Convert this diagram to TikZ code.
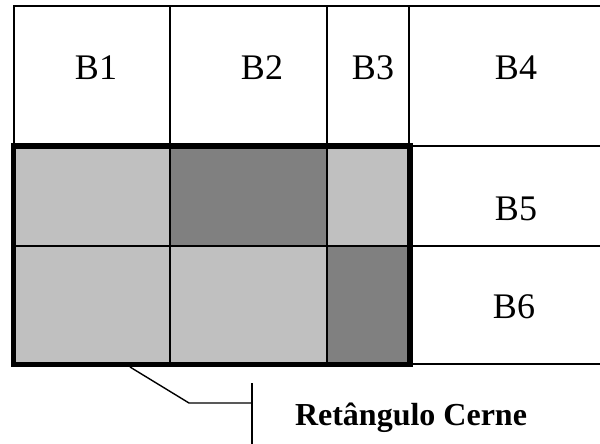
\documentclass[tikz,border=0pt]{standalone}
\usepackage{fontspec}
\setmainfont{Liberation Serif}
\usepackage{tikz}
\usetikzlibrary{positioning,calc}
\definecolor{lightcell}{HTML}{C0C0C0}
\definecolor{darkcell}{HTML}{808080}

\begin{document}
\begin{tikzpicture}[x=1pt,y=-1pt,
  grid/.style={line width=1.6pt,line cap=rect},
  coreframe/.style={line width=5.5pt,line cap=rect},
  lbl/.style={anchor=base,inner sep=0pt,font=\fontsize{36}{36}\selectfont},
  caption/.style={anchor=base,inner sep=0pt,font=\fontsize{32}{32}\selectfont\bfseries}
]
\useasboundingbox (0,0) rectangle (600,444);
% cells of the core rectangle
\fill[lightcell] (14,146) rectangle (170,246);
\fill[darkcell]  (170,146) rectangle (327,246);
\fill[lightcell] (327,146) rectangle (410,246);
\fill[lightcell] (14,246) rectangle (170,364);
\fill[lightcell] (170,246) rectangle (327,364);
\fill[darkcell]  (327,246) rectangle (410,364);
% top row and right column
\draw[grid] (14,146) -- (14,6) -- (600,6);
\draw[grid] (170,6) -- (170,364);
\draw[grid] (327,6) -- (327,364);
\draw[grid] (409,6) -- (409,146);
\draw[grid] (410,146) -- (600,146);
\draw[grid] (14,246) -- (600,246);
\draw[grid] (410,364) -- (600,364);
% core frame
\draw[coreframe] (13.5,146) rectangle (410,364.5);
% labels
\node[lbl] (b1) at (96,80) {B1};
\node[lbl] (b2) at (262,80) {B2};
\node[lbl] (b3) at (373,80) {B3};
\node[lbl] (b4) at (516,80) {B4};
\node[lbl] (b5) at (516,220) {B5};
\node[lbl] (b6) at (514,318) {B6};
\node[caption] (cerne) at (411,425) {Retângulo Cerne};
% leader
\coordinate (lead) at (130,367);
\coordinate (bend) at (189,403);
\coordinate (tick) at (252,403);
\coordinate (bartop) at (252,383);
\coordinate (barbot) at (252,444);
\draw[line width=1.4pt] (lead) -- (bend) -- (tick);
\draw[line width=1.4pt] (bartop) -- (barbot);
\end{tikzpicture}
\end{document}
